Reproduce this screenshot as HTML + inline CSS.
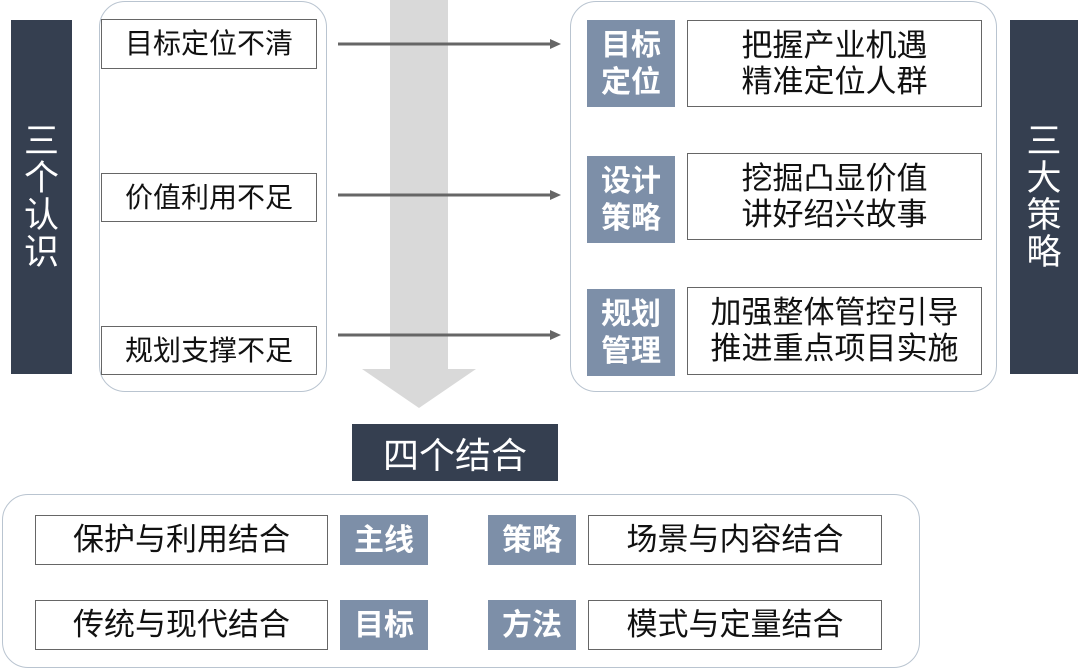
<!DOCTYPE html>
<html><head><meta charset="utf-8"><style>
body{margin:0;width:1080px;height:670px;background:#fff;position:relative;overflow:hidden;font-family:"Liberation Sans","Noto Sans CJK SC",sans-serif;}
div{position:absolute;box-sizing:border-box;}
.dark{background:#353f50;color:#fff;}
.panel{border:1.5px solid #b9c4d0;border-radius:26px;background:#fff;}
.box{border:1.5px solid #666;background:#fff;color:#111;font-size:31px;display:flex;align-items:center;justify-content:center;line-height:36px;text-align:center;white-space:nowrap;}
.lab{background:#7d8fa8;color:#fff;font-size:30px;font-weight:bold;display:flex;align-items:center;justify-content:center;text-align:center;line-height:37px;}
.vt{font-size:35px;line-height:37px;width:40px;text-align:center;}
.sm{font-size:28px;}
</style></head><body>
<div class="dark" style="left:11px;top:20px;width:61px;height:354px;display:flex;align-items:center;justify-content:center"><div class="vt" style="position:static">三个认识</div></div>
<div class="dark" style="left:1010px;top:20px;width:68px;height:354px;display:flex;align-items:center;justify-content:center"><div class="vt" style="position:static">三大策略</div></div>
<div class="panel" style="left:99px;top:1px;width:228px;height:391px"></div>
<div class="panel" style="left:570px;top:1px;width:427px;height:391px"></div>
<svg style="position:absolute;left:0;top:0" width="1080" height="670">
<rect x="390" y="0" width="58" height="369" fill="#d9d9d9"/>
<polygon points="362,369 476,369 419,408" fill="#d9d9d9"/>
<g stroke="#666" stroke-width="3"><line x1="338" y1="44" x2="552" y2="44"/><line x1="338" y1="195" x2="552" y2="195"/><line x1="338" y1="335" x2="552" y2="335"/></g>
<g fill="#666"><polygon points="550,39 561,44 550,49"/><polygon points="550,190 561,195 550,200"/><polygon points="550,330 561,335 550,340"/></g>
</svg>
<div class="box sm" style="left:101px;top:19px;width:216px;height:50px">目标定位不清</div>
<div class="box sm" style="left:101px;top:173px;width:216px;height:49px">价值利用不足</div>
<div class="box sm" style="left:101px;top:326px;width:216px;height:49px">规划支撑不足</div>
<div class="lab" style="left:587px;top:20px;width:88px;height:87px">目标<br>定位</div>
<div class="lab" style="left:587px;top:156px;width:88px;height:87px">设计<br>策略</div>
<div class="lab" style="left:587px;top:289px;width:88px;height:87px">规划<br>管理</div>
<div class="box" style="left:687px;top:20px;width:295px;height:87px">把握产业机遇<br>精准定位人群</div>
<div class="box" style="left:687px;top:153px;width:295px;height:87px">挖掘凸显价值<br>讲好绍兴故事</div>
<div class="box" style="left:687px;top:287px;width:295px;height:88px">加强整体管控引导<br>推进重点项目实施</div>
<div class="dark" style="left:352px;top:424px;width:206px;height:57px;font-size:36px;display:flex;align-items:center;justify-content:center">四个结合</div>
<div class="panel" style="left:2px;top:494px;width:918px;height:174px"></div>
<div class="box" style="left:35px;top:515px;width:293px;height:50px">保护与利用结合</div>
<div class="box" style="left:35px;top:600px;width:293px;height:50px">传统与现代结合</div>
<div class="lab" style="left:340px;top:515px;width:88px;height:50px">主线</div>
<div class="lab" style="left:340px;top:600px;width:88px;height:50px">目标</div>
<div class="lab" style="left:488px;top:515px;width:88px;height:50px">策略</div>
<div class="lab" style="left:488px;top:600px;width:88px;height:50px">方法</div>
<div class="box" style="left:588px;top:515px;width:294px;height:50px">场景与内容结合</div>
<div class="box" style="left:588px;top:600px;width:294px;height:50px">模式与定量结合</div>
</body></html>
